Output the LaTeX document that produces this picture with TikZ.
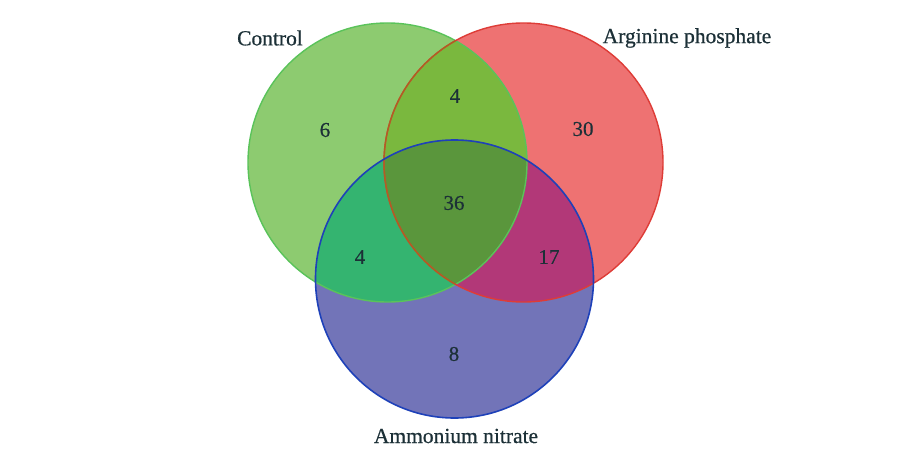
\documentclass[tikz,border=0pt]{standalone}
\usepackage{fontspec}
\setmainfont{Liberation Serif}
\newfontfamily\lblfont[FakeBold=0.6]{Liberation Serif}
\definecolor{gOnly}{RGB}{141,203,112}
\definecolor{rOnly}{RGB}{238,114,114}
\definecolor{bOnly}{RGB}{114,116,184}
\definecolor{grC}{RGB}{122,184,62}
\definecolor{gbC}{RGB}{52,180,112}
\definecolor{rbC}{RGB}{178,56,120}
\definecolor{grbC}{RGB}{90,150,60}
\definecolor{gLine}{RGB}{90,195,90}
\definecolor{rLine}{RGB}{222,60,55}
\definecolor{rLineIn}{RGB}{175,95,35}
\definecolor{bLine}{RGB}{30,65,185}
\definecolor{txt}{RGB}{28,48,55}
\begin{document}
\begin{tikzpicture}[x=1pt,y=-1pt,
  lbl/.style={text=txt,font=\lblfont\fontsize{21.5}{25}\selectfont,inner sep=0pt},
  num/.style={text=txt,font=\lblfont\fontsize{21}{25}\selectfont,inner sep=0pt}]
\useasboundingbox (0,0) rectangle (903,460);
\fill[white] (0,0) rectangle (903,460);
\def\G{(387.5,162.5) circle[radius=139.5]}
\def\R{(523.5,162.5) circle[radius=139.5]}
\def\B{(454.5,279) circle[radius=139]}
% base fills
\fill[gOnly] \G;
\fill[rOnly] \R;
\fill[bOnly] \B;
% pairwise overlaps
\begin{scope}\clip \G; \fill[grC] \R; \end{scope}
\begin{scope}\clip \G; \fill[gbC] \B; \end{scope}
\begin{scope}\clip \R; \fill[rbC] \B; \end{scope}
\begin{scope}\clip \G; \clip \R; \fill[grbC] \B; \end{scope}
% outlines
\draw[gLine,line width=1.4pt] \G;
\draw[rLine,line width=1.4pt] \R;
\begin{scope}\clip \G; \draw[rLineIn,line width=1.4pt] \R; \end{scope}
\draw[bLine,line width=1.6pt] \B;
% labels
\node[lbl] (control) at (270,38) {Control};
\node[lbl] (arg) at (687,38) {Arginine phosphate};
\node[lbl] (amm) at (456,436) {Ammonium nitrate};
% numbers
\node[num] (n6) at (325,130) {6};
\node[num] (n4a) at (455,96) {4};
\node[num] (n30) at (583,129) {30};
\node[num] (n36) at (454,203) {36};
\node[num] (n4b) at (360,257) {4};
\node[num] (n17) at (549,257) {17};
\node[num] (n8) at (454,354) {8};
\end{tikzpicture}
\end{document}
